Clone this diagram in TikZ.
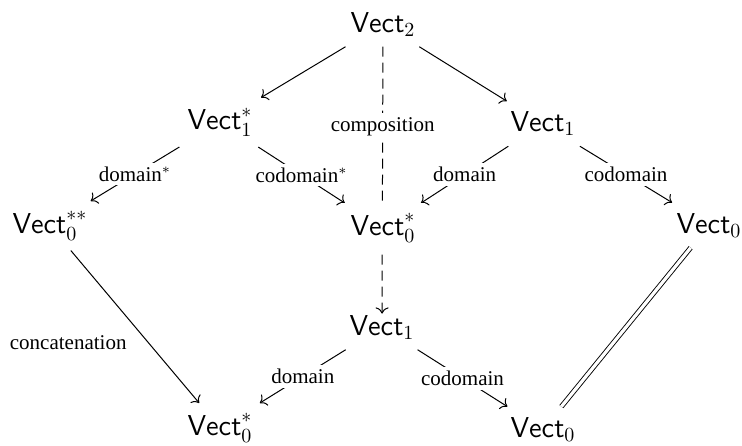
\documentclass[tikz,border=0pt]{standalone}
\usepackage{fontspec}
\newfontfamily\labfont{Liberation Serif}
\usetikzlibrary{cd,backgrounds}
\begin{document}
\begin{tikzpicture}[x=0.5pt,y=-0.5pt,
  obj/.style={anchor=base, font=\fontsize{14.4}{17}\selectfont, inner sep=5pt},
  arr/.style={-{cm to}, line width=0.5pt},
  desc/.style={fill=white, inner sep=2pt, font=\fontsize{10.5}{12}\selectfont\labfont, anchor=center},
  dsh/.style={dash pattern=on 5pt off 3pt},
  eq/.style={double, double distance=1.6pt, line width=0.45pt}
]
\useasboundingbox (0,0) rectangle (742,445);
\node[obj] (v2)   at (383,32)  {$\mathsf{Vect}_2$};
\node[obj] (v1s)  at (220,129.5) {$\mathsf{Vect}_1^*$};
\node[obj] (v1)   at (543,131.5) {$\mathsf{Vect}_1$};
\node[obj] (v0ss) at (50,233)  {$\mathsf{Vect}_0^{**}$};
\node[obj,fill=white] (v0sm) at (383,235) {$\mathsf{Vect}_0^*$};
\node[obj] (v0r)  at (709,233) {$\mathsf{Vect}_0$};
\node[obj] (v1b)  at (382,335) {$\mathsf{Vect}_1$};
\node[obj] (v0sb) at (220,435) {$\mathsf{Vect}_0^*$};
\node[obj] (v0b)  at (543,437) {$\mathsf{Vect}_0$};
\begin{scope}[on background layer]
\draw[arr] (v2) -- (v1s);
\draw[arr] (v2) -- (v1);
\draw[arr,dsh,shorten >=-4.5pt] (v2) -- node[desc,pos=0.31]{composition} (v1b);
\draw[arr] (v1s) -- node[desc]{domain$^*$} (v0ss);
\draw[arr] (v1s) -- node[desc]{codomain$^*$} (v0sm);
\draw[arr] (v1) -- node[desc]{domain} (v0sm);
\draw[arr] (v1) -- node[desc]{codomain} (v0r);
\draw[arr] (v0ss) -- node[desc,fill=none,anchor=north east,inner sep=4pt]{concatenation} (v0sb);
\draw[eq] (v0r) -- (v0b);
\draw[arr] (v1b) -- node[desc]{domain} (v0sb);
\draw[arr] (v1b) -- node[desc]{codomain} (v0b);
\end{scope}
\end{tikzpicture}
\end{document}
